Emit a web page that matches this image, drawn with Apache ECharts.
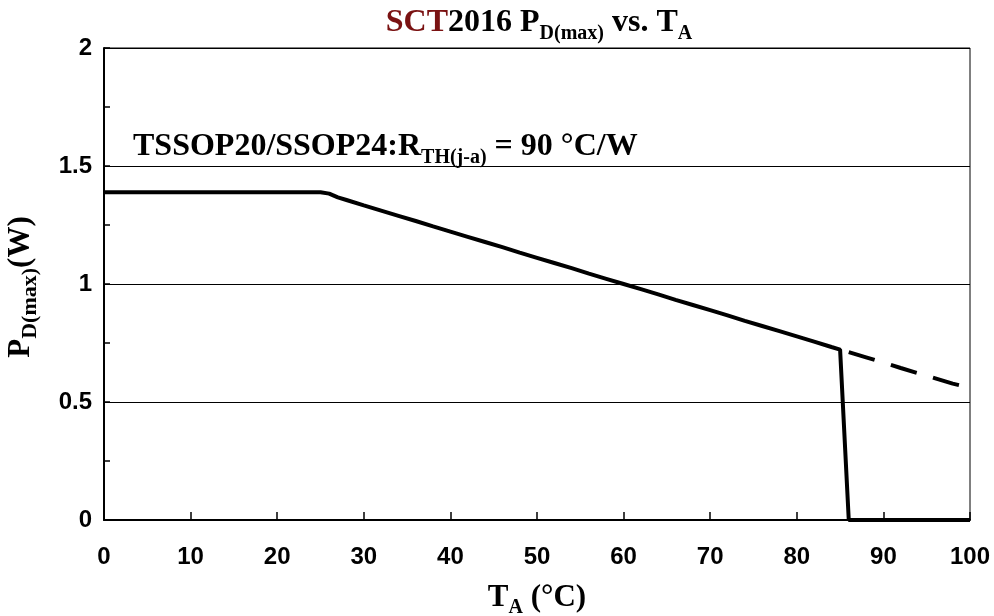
<!DOCTYPE html>
<html><head><meta charset="utf-8">
<script src="https://cdn.jsdelivr.net/npm/echarts@6/dist/echarts.min.js"></script>
<style>html,body{margin:0;padding:0;background:#fff}#c{width:994px;height:616px}</style>
</head><body><div id="c"></div>
<script>
// Temperature (°C) and max power dissipation (W) — solid curve
const tempSolid = [0, 25, 26, 27, 28, 30, 32, 34, 36, 38, 40, 42, 44, 46, 48, 50, 52, 54, 56, 58, 60, 62, 64, 66, 68, 70, 72, 74, 76, 78, 80, 82, 84, 85, 86, 100];
const pdSolid   = [1.389, 1.389, 1.383, 1.367, 1.356, 1.333, 1.311, 1.289, 1.267, 1.244, 1.222, 1.200, 1.178, 1.156, 1.133, 1.111, 1.089, 1.067, 1.044, 1.022, 1.000, 0.978, 0.956, 0.933, 0.911, 0.889, 0.867, 0.844, 0.822, 0.800, 0.778, 0.756, 0.733, 0.722, 0, 0];
// dashed continuation
const tempDashed = [86, 88, 90, 92, 94, 96, 98, 99.5];
const pdDashed   = [0.711, 0.689, 0.667, 0.644, 0.622, 0.600, 0.578, 0.565];
const xTickLabels = [0, 10, 20, 30, 40, 50, 60, 70, 80, 90, 100];
const yTickLabels = [0, 0.5, 1, 1.5, 2];

const serif = '"Liberation Serif","Times New Roman",serif';
const sans = '"Liberation Sans",Arial,sans-serif';

const chart = echarts.init(document.getElementById('c'));
const main = (fs, extra) => Object.assign({fontFamily: serif, fontWeight: 'bold', fontSize: fs, fill: '#000', verticalAlign: 'bottom', lineHeight: fs, padding: [0, 0, Math.round(fs*0.17), 0]}, extra || {});
const sub = (fs) => ({fontFamily: serif, fontWeight: 'bold', fontSize: fs, fill: '#000', verticalAlign: 'bottom', lineHeight: fs});

chart.setOption({
  animation: false,
  grid: {left: 104, right: 24, top: 48, bottom: 96, show: true, borderColor: '#000', borderWidth: 1, backgroundColor: 'transparent'},
  xAxis: {
    type: 'value', min: 0, max: 100, interval: 10,
    axisLine: {show: true, onZero: false, lineStyle: {color: '#000', width: 2}},
    axisTick: {show: true, inside: true, length: 8, lineStyle: {color: '#000', width: 1.5}},
    axisLabel: {fontFamily: sans, fontWeight: 'bold', fontSize: 24, color: '#000', margin: 25,
      formatter: v => xTickLabels.includes(v) ? String(v) : ''},
    splitLine: {show: false}
  },
  yAxis: {
    type: 'value', min: 0, max: 2, interval: 0.5,
    axisLine: {show: true, lineStyle: {color: '#000', width: 2}},
    axisTick: {show: true, inside: true, length: 6, lineStyle: {color: '#000', width: 1.5}},
    minorTick: {show: true, splitNumber: 2, length: 6, lineStyle: {color: '#000', width: 1.5}},
    axisLabel: {fontFamily: sans, fontWeight: 'bold', fontSize: 24, color: '#000', margin: 12,
      formatter: v => yTickLabels.includes(v) ? String(v) : ''},
    splitLine: {show: true, lineStyle: {color: '#000', width: 1}}
  },
  series: [
    {type: 'line', data: tempSolid.map((t, i) => [t, pdSolid[i]]), symbol: 'none',
     lineStyle: {color: '#000', width: 4}},
    {type: 'line', data: tempDashed.map((t, i) => [t, pdDashed[i]]), symbol: 'none',
     lineStyle: {color: '#000', width: 4, type: [27, 17]}}
  ],
  graphic: [
    {type: 'text', x: 539, y: 44, style: {
      text: '{r|SCT}{m|2016 P}{s|D(max)}{m| vs. T}{s|A}', align: 'center', verticalAlign: 'bottom',
      rich: {r: main(32, {fill: '#7a1212'}), m: main(32), s: sub(20)}}},
    {type: 'text', x: 133, y: 168, style: {
      text: '{m|TSSOP20/SSOP24:R}{s|TH(j-a)}{m| = 90 °C/W}', align: 'left', verticalAlign: 'bottom',
      rich: {m: main(32), s: sub(20)}}},
    {type: 'text', x: 537, y: 618, style: {
      text: '{m|T}{s|A}{m| (°C)}', align: 'center', verticalAlign: 'bottom',
      rich: {m: main(31), s: sub(20)}}},
    {type: 'text', x: 26, y: 287, rotation: Math.PI / 2, style: {
      text: '{m|P}{s|D(max)}{m|(W)}', align: 'center', verticalAlign: 'middle',
      rich: {m: main(31), s: sub(22)}}}
  ]
});
</script></body></html>
